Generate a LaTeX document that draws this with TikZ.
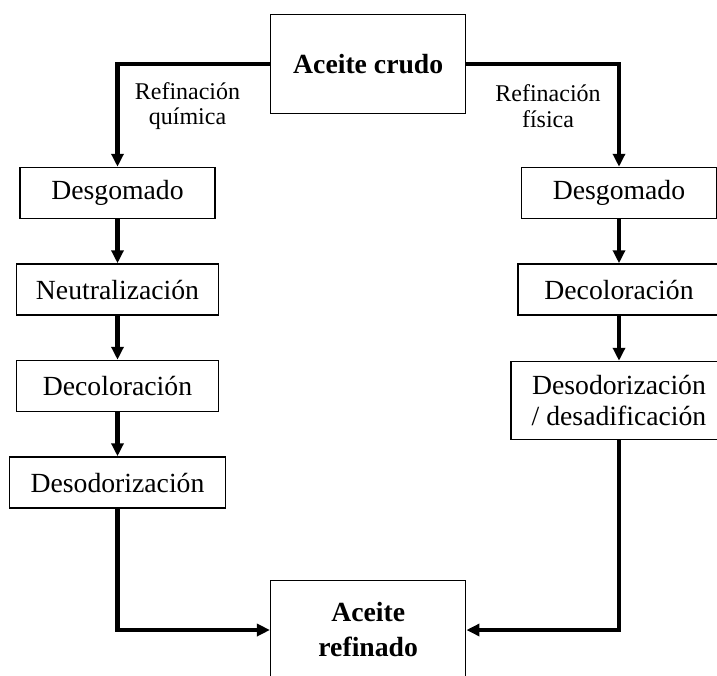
\documentclass[tikz,border=0pt]{standalone}
\usepackage{fontspec}
\setmainfont{Liberation Serif}
\usetikzlibrary{arrows.meta, positioning}

\begin{document}
\begin{tikzpicture}[x=1pt, y=-1pt, node distance=44pt,
  stage/.style={rectangle, draw, line width=1.5pt, minimum height=51pt, inner sep=0pt, align=center, font=\fontsize{27.7}{31}\selectfont},
  oil/.style={rectangle, draw, line width=1.5pt, minimum width=195pt, minimum height=98.6pt, inner sep=0pt, align=center, font=\fontsize{27.7}{35}\selectfont\bfseries},
  route/.style={align=center, inner sep=0pt, font=\fontsize{24}{25.5}\selectfont},
  arrow/.style={-{Triangle[length=13pt, width=12pt]}, line width=4.5pt}
]
  \useasboundingbox (0,0) rectangle (717,675);

  \node[oil] (crude) at (368.2,64) {Aceite crudo};

  % chemical refining
  \node[stage, minimum width=195pt] (degumL) at (117.5,193) {Desgomado};
  \node[stage, minimum width=202pt, below=of degumL] (neutL) {Neutralización};
  \node[stage, minimum width=202pt, below=of neutL] (bleachL) {Decoloración};
  \node[stage, minimum width=216pt, below=of bleachL] (deodL) {Desodorización};

  % physical refining
  \node[stage, minimum width=195pt] (degumR) at (619,193) {Desgomado};
  \node[stage, minimum width=202pt, below=of degumR] (bleachR) {Decoloración};
  \node[stage, minimum width=216pt, minimum height=78pt, below=45pt of bleachR] (deodR) {Desodorización\\/ desadificación};

  \node[oil] (refined) at (368.2,630) {Aceite\\refinado};

  \node[route] (chem) at (187.5,106) {Refinación\\química};
  \node[route] (phys) at (548,106) {Refinación\\física};

  \draw[arrow] (crude.west) -| (degumL.north);
  \draw[arrow] (crude.east) -| (degumR.north);
  \draw[arrow] (degumL)  -- (neutL);
  \draw[arrow] (neutL)   -- (bleachL);
  \draw[arrow] (bleachL) -- (deodL);
  \draw[arrow] (degumR)  -- (bleachR);
  \draw[arrow] (bleachR) -- (deodR);
  \draw[arrow] (deodL.south) |- (refined.west);
  \draw[arrow] (deodR.south) |- (refined.east);
\end{tikzpicture}
\end{document}
